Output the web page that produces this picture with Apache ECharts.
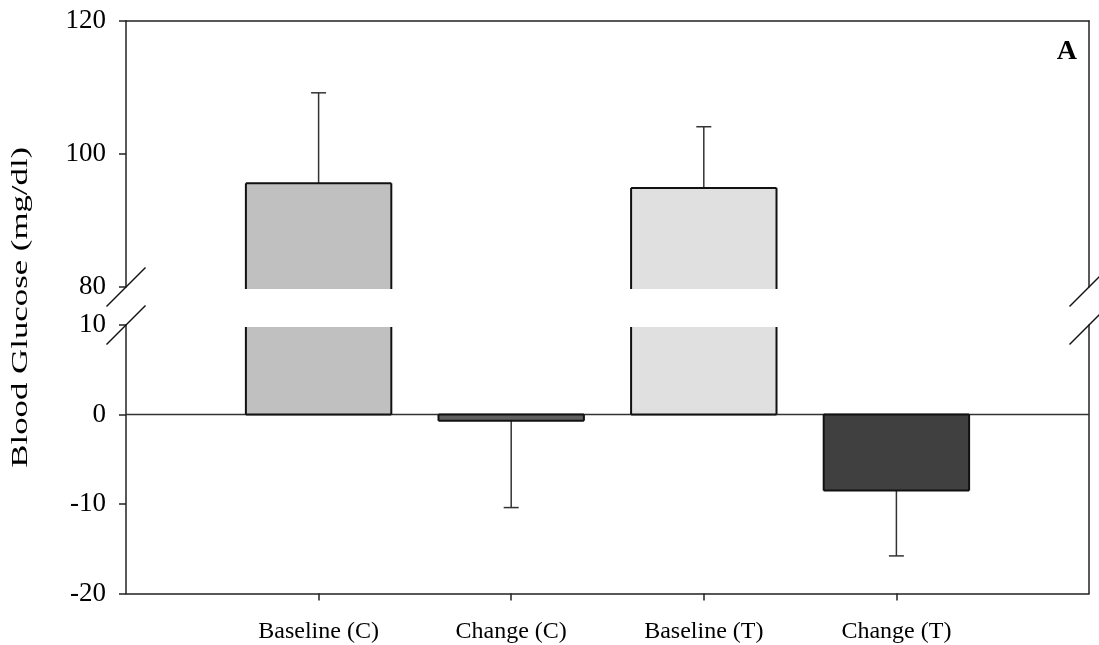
<!DOCTYPE html>
<html><head><meta charset="utf-8">
<script src="https://cdn.jsdelivr.net/npm/echarts@6/dist/echarts.min.js"></script>
<style>html,body{margin:0;padding:0;background:#fff}#c{width:1099px;height:645px}</style>
</head><body><div id="c"></div><script>
const categories = ['Baseline (C)', 'Change (C)', 'Baseline (T)', 'Change (T)'];
const means = [95.6, -0.7, 94.9, -8.5];
const errors = [13.6, 9.7, 9.2, 7.3];
const barColors = ['#c0c0c0', '#606060', '#e0e0e0', '#404040'];
const upperRange = [80, 120];
const lowerRange = [-20, 10];
const upperInterval = 20;
const lowerInterval = 10;
const yTitle = 'Blood Glucose (mg/dl)';
const panelLabel = 'A';

const FONT = 'Liberation Serif';
const data = categories.map((c, i) => [i + 1, means[i], errors[i]]);

function makeRender(lo, hi) {
  return function (params, api) {
    const x = api.value(0), m = api.value(1), sd = api.value(2);
    const idx = params.dataIndex;
    const half = api.size([0.755, 0])[0] / 2;
    const cx = api.coord([x, 0])[0];
    const clamp = v => Math.max(lo, Math.min(hi, v));
    const a = clamp(0), b = clamp(m);
    const children = [];
    const edge = { stroke: '#111', lineWidth: 2 };
    if (a !== b) {
      let y0 = api.coord([x, a])[1], y1 = api.coord([x, b])[1];
      if (a !== 0) y0 += 2;
      if (b !== m) y1 += 2;
      const top = Math.min(y0, y1), h = Math.abs(y1 - y0);
      children.push({ type: 'rect', shape: { x: cx - half, y: top, width: half * 2, height: h },
        style: { fill: barColors[idx] } });
      children.push({ type: 'line', shape: { x1: cx - half, y1: y0, x2: cx - half, y2: y1 }, style: edge });
      children.push({ type: 'line', shape: { x1: cx + half, y1: y0, x2: cx + half, y2: y1 }, style: edge });
      if (a === 0) children.push({ type: 'line', shape: { x1: cx - half, y1: y0, x2: cx + half, y2: y0 }, style: edge });
      if (b === m) children.push({ type: 'line', shape: { x1: cx - half, y1: y1, x2: cx + half, y2: y1 }, style: edge });
      if (b === m) {
        const endV = clamp(m + (m >= 0 ? sd : -sd));
        const ye = api.coord([x, endV])[1];
        const es = { stroke: '#333', lineWidth: 1.5 };
        children.unshift({ type: 'line', shape: { x1: cx, y1: y1, x2: cx, y2: ye }, style: es });
        children.unshift({ type: 'line', shape: { x1: cx - 7.5, y1: ye, x2: cx + 7.5, y2: ye }, style: es });
      }
    }
    return { type: 'group', children };
  };
}

const axisLineStyle = { color: '#222', width: 1.5 };
const chart = echarts.init(document.getElementById('c'), null, { renderer: 'canvas' });

const option = {
  animation: false,
  backgroundColor: '#fff',
  title: { text: panelLabel, right: 22, top: 38, padding: 0,
    textStyle: { fontFamily: FONT, fontWeight: 'bold', fontSize: 28, color: '#000' } },
  grid: [
    { left: 126, right: 10, top: 21, height: 266 },
    { left: 126, right: 10, top: 325, height: 268.5 }
  ],
  xAxis: [
    { gridIndex: 0, type: 'value', min: 0, max: 5, position: 'top',
      axisLine: { show: true, onZero: false, lineStyle: axisLineStyle },
      axisTick: { show: false }, axisLabel: { show: false }, splitLine: { show: false } },
    { gridIndex: 1, type: 'value', min: 0, max: 5, interval: 1, position: 'bottom',
      axisLine: { show: true, onZero: false, lineStyle: axisLineStyle },
      axisTick: { show: true, length: 7, customValues: [1, 2, 3, 4], lineStyle: axisLineStyle },
      axisLabel: { show: true, customValues: [1, 2, 3, 4], margin: 26,
        formatter: v => categories[v - 1] || '',
        fontFamily: FONT, fontSize: 24, color: '#000' },
      splitLine: { show: false } }
  ],
  yAxis: [
    { gridIndex: 0, type: 'value', min: upperRange[0], max: upperRange[1], interval: upperInterval,
      axisLine: { show: true, onZero: false, lineStyle: axisLineStyle },
      axisTick: { show: true, length: 7, lineStyle: axisLineStyle },
      axisLabel: { margin: 20, fontFamily: FONT, fontSize: 27, color: '#000' },
      splitLine: { show: false } },
    { gridIndex: 0, type: 'value', min: upperRange[0], max: upperRange[1], position: 'right',
      axisLine: { show: true, onZero: false, lineStyle: axisLineStyle },
      axisTick: { show: false }, axisLabel: { show: false }, splitLine: { show: false } },
    { gridIndex: 1, type: 'value', min: lowerRange[0], max: lowerRange[1], interval: lowerInterval,
      axisLine: { show: true, onZero: false, lineStyle: axisLineStyle },
      axisTick: { show: true, length: 7, lineStyle: axisLineStyle },
      axisLabel: { margin: 20, fontFamily: FONT, fontSize: 27, color: '#000' },
      splitLine: { show: false } },
    { gridIndex: 1, type: 'value', min: lowerRange[0], max: lowerRange[1], position: 'right',
      axisLine: { show: true, onZero: false, lineStyle: axisLineStyle },
      axisTick: { show: false }, axisLabel: { show: false }, splitLine: { show: false } }
  ],
  series: [
    { type: 'line', xAxisIndex: 1, yAxisIndex: 2, data: [[0, 0], [5, 0]], symbol: 'none',
      lineStyle: { color: '#333', width: 1.5 }, z: 1, silent: true },
    { type: 'custom', xAxisIndex: 0, yAxisIndex: 0, data: data, clip: false, z: 3,
      renderItem: makeRender(upperRange[0], upperRange[1]) },
    { type: 'custom', xAxisIndex: 1, yAxisIndex: 2, data: data, clip: false, z: 3,
      renderItem: makeRender(lowerRange[0], lowerRange[1]) }
  ]
};
chart.setOption(option);

// break marks and y-axis title, positioned from the axes
const xl = chart.convertToPixel({ xAxisIndex: 0 }, 0);
const xr = chart.convertToPixel({ xAxisIndex: 0 }, 5);
const yb1 = chart.convertToPixel({ yAxisIndex: 0 }, upperRange[0]);
const yb2 = chart.convertToPixel({ yAxisIndex: 2 }, lowerRange[1]);
const yTop = chart.convertToPixel({ yAxisIndex: 0 }, upperRange[1]);
const yBot = chart.convertToPixel({ yAxisIndex: 2 }, lowerRange[0]);
const d = 19.5;
const slash = (x, y) => ({ type: 'line', shape: { x1: x - d, y1: y + d, x2: x + d, y2: y - d },
  style: { stroke: '#111', lineWidth: 1.5 }, z: 10 });
chart.setOption({
  graphic: [
    slash(xl, yb1), slash(xl, yb2), slash(xr, yb1), slash(xr, yb2),
    { type: 'text', x: 21, y: (yTop + yBot) / 2, rotation: Math.PI / 2, scaleX: 1.45,
      style: { text: yTitle, font: '24px "Liberation Serif"', fill: '#000',
        align: 'center', verticalAlign: 'middle' } }
  ]
});
</script></body></html>
